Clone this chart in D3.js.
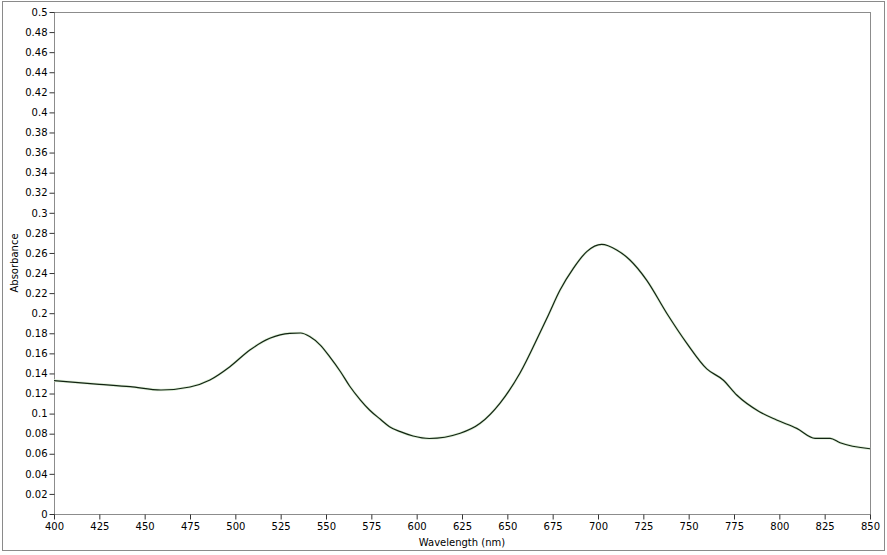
<!DOCTYPE html>
<html>
<head>
<meta charset="utf-8">
<script src="https://cdn.jsdelivr.net/npm/d3@7"></script>
<style>
  body { margin: 0; background: #fff; }
  svg { display: block; }
  text { font-family: "DejaVu Sans", sans-serif; fill: #000; }
</style>
</head>
<body>
<div id="chart"></div>
<script>
// spectrum
const wavelength = [400, 425, 442, 459, 475, 486, 497, 508, 519, 530, 536, 541, 547, 552, 558, 563, 569, 574, 580, 585, 591, 598, 607, 624, 635, 646, 657, 668, 672.6, 679, 686.4, 693.8, 702, 710.3, 717.6, 726.8, 737.9, 749, 760, 769, 776.5, 789, 798.5, 809.6, 819.7, 828, 833.5, 850];
const absorbance = [0.1328, 0.1292, 0.1268, 0.1235, 0.1265, 0.1335, 0.1467, 0.1633, 0.175, 0.180, 0.1803, 0.1768, 0.168, 0.1567, 0.1417, 0.1275, 0.1135, 0.1036, 0.0943, 0.087, 0.082, 0.0777, 0.0752, 0.0804, 0.0903, 0.1105, 0.1404, 0.1805, 0.198, 0.2228, 0.2447, 0.2613, 0.2685, 0.263, 0.253, 0.233, 0.200, 0.170, 0.1445, 0.1335, 0.1185, 0.1019, 0.0936, 0.0853, 0.0754, 0.0754, 0.071, 0.065];
const xTicks = [400, 425, 450, 475, 500, 525, 550, 575, 600, 625, 650, 675, 700, 725, 750, 775, 800, 825, 850];
const yTicks = d3.range(0, 26).map(i => +(i * 0.02).toFixed(2));

const width = 887, height = 555;
const margin = {top: 12, right: 17, bottom: 41, left: 54};
const w = width - margin.left - margin.right,
      h = height - margin.top - margin.bottom;

const svg = d3.select("#chart")
  .append("svg")
    .attr("width", width)
    .attr("height", height);

// outer frame
svg.append("rect")
  .attr("x", 2.5).attr("y", 1.5)
  .attr("width", 882).attr("height", 549)
  .attr("fill", "none")
  .attr("stroke", "#8a8a8a");

const g = svg.append("g")
  .attr("transform", `translate(${margin.left},${margin.top})`);

const x = d3.scaleLinear().domain([400, 850]).range([0, w]);
const y = d3.scaleLinear().domain([0, 0.5]).range([h, 0]);

// plot box
g.append("rect")
  .attr("x", 0.5).attr("y", 0.5)
  .attr("width", w).attr("height", h)
  .attr("fill", "#fff")
  .attr("stroke", "#8c8c8c");

const xAxis = g.append("g")
  .attr("transform", `translate(0,${h + 0.5})`)
  .call(d3.axisBottom(x).tickValues(xTicks).tickSize(5).tickPadding(3).tickFormat(d3.format("d")));

const yAxis = g.append("g")
  .attr("transform", "translate(0.5,0)")
  .call(d3.axisLeft(y).tickValues(yTicks).tickSize(5).tickPadding(2).tickFormat(d => d === 0 ? "0" : String(d)));

[xAxis, yAxis].forEach(a => {
  a.select(".domain").remove();
  a.selectAll(".tick line").attr("stroke", "#333");
  a.selectAll(".tick text").attr("font-size", "10px").attr("fill", "#000")
    .style("font-family", "'DejaVu Sans', sans-serif");
});

const pts = wavelength.map((d, i) => [d, absorbance[i]]);

const line = d3.line()
  .x(d => x(d[0]))
  .y(d => y(d[1]))
  .curve(d3.curveMonotoneX);

// faint green halo then the dark trace
g.append("path")
  .datum(pts)
  .attr("d", line)
  .attr("fill", "none")
  .attr("stroke", "#dcefd6")
  .attr("stroke-width", 2.6);

g.append("path")
  .datum(pts)
  .attr("d", line)
  .attr("fill", "none")
  .attr("stroke", "#132313")
  .attr("stroke-width", 1.2);

// axis titles
svg.append("text")
  .attr("x", margin.left + w / 2)
  .attr("y", 546)
  .attr("text-anchor", "middle")
  .attr("font-size", "10px")
  .text("Wavelength (nm)");

svg.append("text")
  .attr("transform", `translate(18,${margin.top + h / 2}) rotate(-90)`)
  .attr("text-anchor", "middle")
  .attr("font-size", "10px")
  .text("Absorbance");
</script>
</body>
</html>
